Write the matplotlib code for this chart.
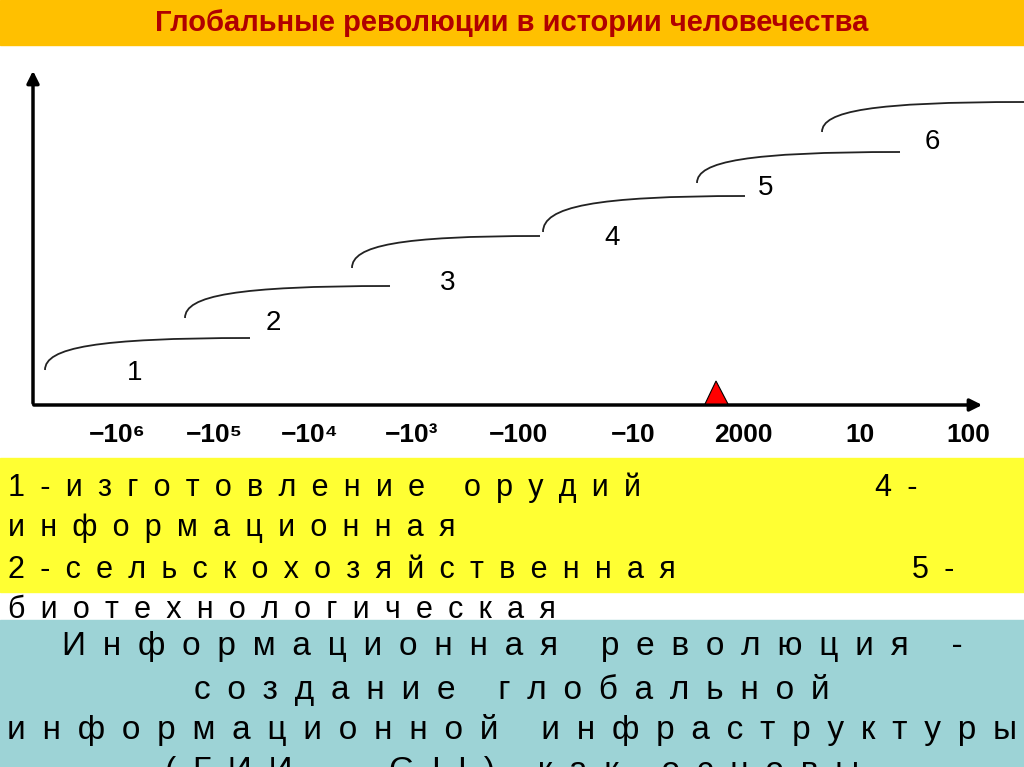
import matplotlib
matplotlib.use("Agg")
import matplotlib.pyplot as plt
import numpy as np
from matplotlib.path import Path
from matplotlib.patches import PathPatch, Rectangle, Polygon

plt.rcParams['font.family'] = ['Liberation Sans', 'DejaVu Sans']

title = "Глобальные революции в истории человечества"
tick_labels = ["−10⁶", "−10⁵", "−10⁴", "−10³", "−100", "−10", "2000", "10", "100"]
tick_x = [117, 214, 310, 412, 518, 633, 743, 860, 968]
rev_labels = ["1", "2", "3", "4", "5", "6"]
curve_start = [(45, 370), (185, 318), (352, 268), (543, 232), (697, 183), (822, 132)]
curve_end = [(250, 338), (390, 286), (540, 236), (745, 196), (900, 152), (1024, 102)]
label_pos = [(135, 373), (273, 323), (448, 283), (612, 238), (766, 188), (932, 142)]
marker_x = 716

fig = plt.figure(figsize=(10.24, 7.67), dpi=100)
ax = fig.add_axes([0, 0, 1, 1])
ax.set_xlim(0, 1024); ax.set_ylim(767, 0); ax.axis('off')

def sp(s):
    return "\u2002".join(s)

ax.add_patch(Rectangle((0, 0), 1024, 45, color='#FFC000', zorder=0))
ax.text(512, 23, title, ha='center', va='center', fontsize=21, fontweight='bold', color='#B00000')

ax.annotate("", xy=(985, 405), xytext=(31, 405), arrowprops=dict(arrowstyle='-|>', lw=2.5, color='black', mutation_scale=18))
ax.annotate("", xy=(33, 68), xytext=(33, 406), arrowprops=dict(arrowstyle='-|>', lw=2.5, color='black', mutation_scale=18))

for (x0, y0), (x1, y1) in zip(curve_start, curve_end):
    verts = [(x0, y0), (x0, y0 - (y0 - y1) * 0.7), (x0 + (x1 - x0) * 0.25, y1), (x1, y1)]
    p = Path(verts, [Path.MOVETO, Path.CURVE4, Path.CURVE4, Path.CURVE4])
    ax.add_patch(PathPatch(p, fill=False, lw=1.3, color='#222222'))
for lab, (x, y) in zip(rev_labels, label_pos):
    ax.text(x, y, lab, ha='center', va='center', fontsize=20)
for lab, x in zip(tick_labels, tick_x):
    ax.text(x, 435, lab, ha='center', va='center', fontsize=19, fontweight='bold')

ax.add_patch(Polygon([(705, 404), (728, 404), (716, 381)], closed=True, facecolor='#FF0000', edgecolor='black', lw=0.8, zorder=5))

ax.add_patch(Rectangle((0, 458), 1024, 134, color='#FFFF33', zorder=0))
fs = 22
ax.text(8, 488, sp("1-изготовление орудий"), va='center', fontsize=fs)
ax.text(875, 488, sp("4-"), va='center', fontsize=fs)
ax.text(8, 528, sp("информационная"), va='center', fontsize=fs)
ax.text(8, 570, sp("2-сельскохозяйственная"), va='center', fontsize=fs)
ax.text(912, 570, sp("5-"), va='center', fontsize=fs)
ax.text(8, 610, sp("биотехнологическая"), va='center', fontsize=fs, zorder=1)

ax.add_patch(Rectangle((0, 620), 1024, 147, color='#9DD3D6', zorder=2))
fs2 = 24
ax.text(512, 646, sp("Информационная революция -"), ha='center', va='center', fontsize=fs2, zorder=3)
ax.text(512, 690, sp("создание глобальной"), ha='center', va='center', fontsize=fs2, zorder=3)
ax.text(512, 730, sp("информационной инфраструктуры"), ha='center', va='center', fontsize=fs2, zorder=3)
ax.text(512, 756, sp("(ГИИ - GII) как основы"), ha='center', va='top', fontsize=fs2, zorder=3, clip_on=True)

fig.savefig("out.png", dpi=100)
